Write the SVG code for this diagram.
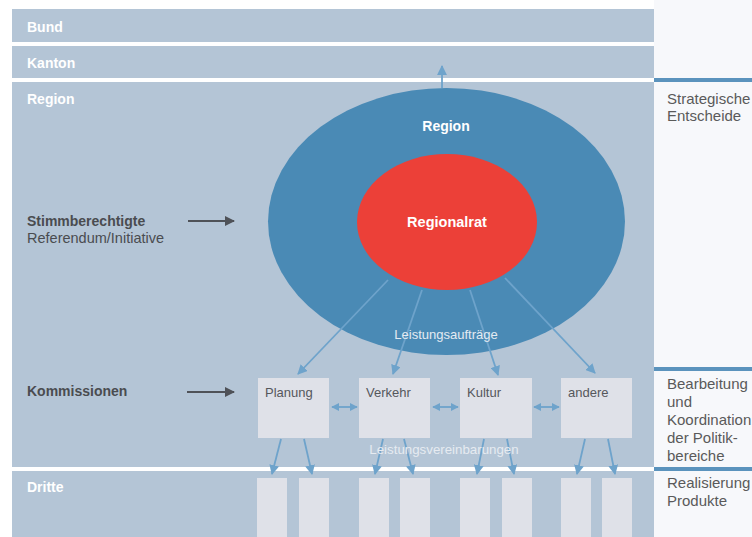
<svg xmlns="http://www.w3.org/2000/svg" width="752" height="537" viewBox="0 0 752 537">
<defs>
<marker id="ah" viewBox="0 0 10 10" refX="9" refY="5" markerWidth="5.5" markerHeight="5.5" orient="auto-start-reverse" markerUnits="strokeWidth">
<path d="M0,0 L10,5 L0,10 z" fill="#6ea3cb"/>
</marker>
<marker id="ahd" viewBox="0 0 10 10" refX="9" refY="5" markerWidth="5" markerHeight="5" orient="auto" markerUnits="strokeWidth">
<path d="M0,0 L10,5 L0,10 z" fill="#4f5258"/>
</marker>
<marker id="ahs" viewBox="0 0 10 10" refX="9" refY="5" markerWidth="4.5" markerHeight="4.5" orient="auto-start-reverse" markerUnits="strokeWidth">
<path d="M0,0 L10,5 L0,10 z" fill="#6ea3cb"/>
</marker>
</defs>
<style>
text{font-family:"Liberation Sans",Arial,sans-serif}
.lvl{font-size:14px;font-weight:bold;fill:#ffffff}
.side{font-size:15px;fill:#5a5a5a}
.lab{font-size:14px;font-weight:bold;fill:#4a4c50}
.sub{font-size:14.5px;fill:#4a4c50}
.box{fill:#dfe1e8}
.bt{font-size:13px;fill:#55575c}
.con{stroke:#6ea3cb;stroke-width:1.8;fill:none}
.dark{stroke:#4f5258;stroke-width:2;fill:none}
.wl{fill:#ffffff}
.bl{fill:#5b93bd}
</style>
<rect x="0" y="0" width="752" height="537" fill="#ffffff"/>
<rect x="654" y="0" width="98" height="537" fill="#f7f8fb"/>
<g id="panel">
<rect x="12" y="9" width="642" height="528" fill="#b4c5d6"/>
<rect class="wl" x="12" y="42" width="642" height="4"/>
<rect class="wl" x="12" y="78" width="642" height="4"/>
<rect class="wl" x="12" y="467" width="642" height="4"/>
<rect class="bl" x="654" y="78" width="98" height="4"/>
<rect class="bl" x="654" y="367" width="98" height="4"/>
<rect class="bl" x="654" y="467" width="98" height="4"/>
</g>
<g id="levels">
<text class="lvl" x="27" y="32">Bund</text>
<text class="lvl" x="27" y="68">Kanton</text>
<text class="lvl" x="27" y="104">Region</text>
<text class="lvl" x="27" y="492">Dritte</text>
</g>
<g id="side">
<text class="side" x="667" y="104">Strategische</text>
<text class="side" x="667" y="121">Entscheide</text>
<text class="side" x="667" y="389">Bearbeitung</text>
<text class="side" x="667" y="407">und</text>
<text class="side" x="667" y="425">Koordination</text>
<text class="side" x="667" y="443">der Politik-</text>
<text class="side" x="667" y="461">bereiche</text>
<text class="side" x="667" y="488">Realisierung</text>
<text class="side" x="667" y="506">Produkte</text>
</g>
<g id="stimmberechtigte">
<text class="lab" x="27" y="226">Stimmberechtigte</text>
<text class="sub" x="27" y="243">Referendum/Initiative</text>
</g>
<g id="kommissionen-label">
<text class="lab" x="27" y="396">Kommissionen</text>
</g>
<g id="region">
<ellipse cx="446.5" cy="221.5" rx="178.5" ry="133.5" fill="#4a8ab5"/>
<text x="446" y="131" text-anchor="middle" font-size="14" font-weight="bold" fill="#ffffff">Region</text>
</g>
<g id="regionalrat">
<ellipse cx="447" cy="222" rx="90" ry="68" fill="#ec4038"/>
<text x="447" y="227" text-anchor="middle" font-size="14.5" font-weight="bold" fill="#ffffff">Regionalrat</text>
</g>
<g id="planung"><rect class="box" x="258" y="378" width="71" height="60"/><text class="bt" x="265" y="397">Planung</text></g>
<g id="verkehr"><rect class="box" x="359" y="378" width="71" height="60"/><text class="bt" x="366" y="397">Verkehr</text></g>
<g id="kultur"><rect class="box" x="460" y="378" width="72" height="60"/><text class="bt" x="467" y="397">Kultur</text></g>
<g id="andere"><rect class="box" x="561" y="378" width="71" height="60"/><text class="bt" x="568" y="397">andere</text></g>
<g id="dritte">
<rect class="box" x="257" y="478" width="30" height="59"/>
<rect class="box" x="299" y="478" width="30" height="59"/>
<rect class="box" x="359" y="478" width="30" height="59"/>
<rect class="box" x="400" y="478" width="30" height="59"/>
<rect class="box" x="460" y="478" width="30" height="59"/>
<rect class="box" x="502" y="478" width="30" height="59"/>
<rect class="box" x="561" y="478" width="30" height="59"/>
<rect class="box" x="602" y="478" width="30" height="59"/>
</g>
<g id="connectors">
<line class="con" x1="442" y1="88" x2="442" y2="66" marker-end="url(#ah)"/>
<line class="dark" x1="188" y1="221" x2="234" y2="221" marker-end="url(#ahd)"/>
<line class="dark" x1="187" y1="392" x2="234" y2="392" marker-end="url(#ahd)"/>
<line class="con" x1="388" y1="280" x2="298" y2="374" marker-end="url(#ah)"/>
<line class="con" x1="422" y1="290" x2="393" y2="374" marker-end="url(#ah)"/>
<line class="con" x1="470" y1="290" x2="498" y2="375" marker-end="url(#ah)"/>
<line class="con" x1="505" y1="278" x2="595" y2="373" marker-end="url(#ah)"/>
<line class="con" x1="332" y1="407" x2="357" y2="407" marker-start="url(#ahs)" marker-end="url(#ahs)"/>
<line class="con" x1="433" y1="407" x2="458" y2="407" marker-start="url(#ahs)" marker-end="url(#ahs)"/>
<line class="con" x1="534" y1="407" x2="559" y2="407" marker-start="url(#ahs)" marker-end="url(#ahs)"/>
<line class="con" x1="281" y1="439" x2="272" y2="474" marker-end="url(#ah)"/>
<line class="con" x1="304" y1="439" x2="312" y2="474" marker-end="url(#ah)"/>
<line class="con" x1="383" y1="439" x2="375" y2="474" marker-end="url(#ah)"/>
<line class="con" x1="404" y1="439" x2="413" y2="474" marker-end="url(#ah)"/>
<line class="con" x1="484" y1="439" x2="477" y2="474" marker-end="url(#ah)"/>
<line class="con" x1="507" y1="439" x2="514" y2="474" marker-end="url(#ah)"/>
<line class="con" x1="585" y1="439" x2="577" y2="474" marker-end="url(#ah)"/>
<line class="con" x1="608" y1="439" x2="615" y2="474" marker-end="url(#ah)"/>
</g>
<text x="446" y="339" text-anchor="middle" font-size="13" fill="#e4ebf2">Leistungsaufträge</text>
<text x="444" y="454" text-anchor="middle" font-size="13.3" fill="#e6ebf1">Leistungsvereinbarungen</text>
</svg>
